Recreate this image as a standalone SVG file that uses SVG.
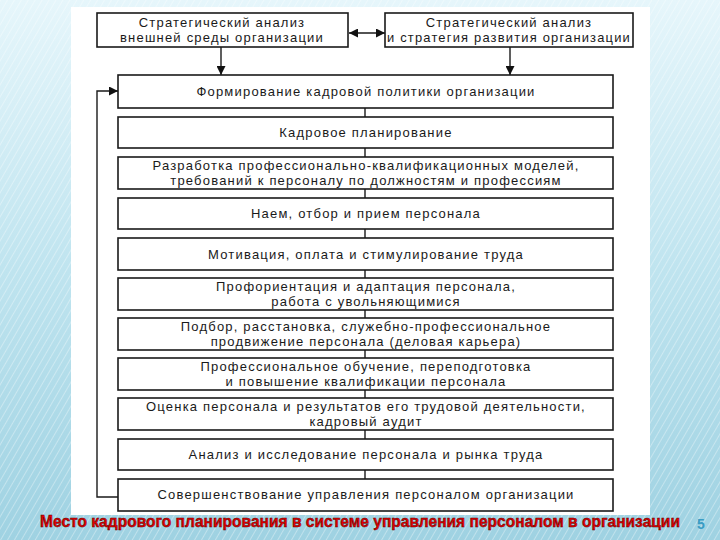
<svg xmlns="http://www.w3.org/2000/svg" width="720" height="540" viewBox="0 0 720 540">
<defs>
<linearGradient id="bg" x1="0" y1="0" x2="0" y2="1">
<stop offset="0" stop-color="#e6f6fb"/>
<stop offset="0.5" stop-color="#bfe4ef"/>
<stop offset="1" stop-color="#9fd2e2"/>
</linearGradient>
<pattern id="stripes" width="6" height="6" patternUnits="userSpaceOnUse" patternTransform="rotate(30)">
<rect width="6" height="6" fill="none"/>
<line x1="0" y1="0" x2="0" y2="6" stroke="#ffffff" stroke-width="1.5" opacity="0.45"/>
</pattern>
<marker id="ah" viewBox="0 0 10 10" refX="10" refY="5" markerWidth="9" markerHeight="9" markerUnits="userSpaceOnUse" orient="auto-start-reverse">
<path d="M0,0 L10,5 L0,10 z" fill="#111"/>
</marker>
</defs>
<style>
.box{fill:#fff;stroke:#1a1a1a;stroke-width:1.6}
.t{font-family:"Liberation Sans",Arial,sans-serif;font-size:13px;letter-spacing:1.2px;fill:#1a1a1a;text-anchor:middle}
.c{fill:none;stroke:#1a1a1a;stroke-width:1.4}
.cap{font-family:"Liberation Sans",Arial,sans-serif;font-weight:bold;font-size:16px;fill:#e60000;stroke:#5a0000;stroke-width:0.5}
</style>
<rect width="720" height="540" fill="url(#bg)"/>
<rect width="720" height="540" fill="url(#stripes)"/>
<rect x="71" y="7" width="579" height="508" fill="#ffffff"/>

<g id="connectors">
<line class="c" x1="349" y1="33" x2="385" y2="33" marker-start="url(#ah)" marker-end="url(#ah)"/>
<line class="c" x1="221" y1="47" x2="221" y2="75" marker-end="url(#ah)"/>
<line class="c" x1="510" y1="47" x2="510" y2="75" marker-end="url(#ah)"/>
<path class="c" d="M118,497 H97 V91 H118" marker-end="url(#ah)"/>
<path class="c" d="M365,108 V117 M365,148 V157 M365,189 V198 M365,229 V238 M365,270 V278 M365,310 V318 M365,350 V358 M365,390 V398 M365,430 V439 M365,470 V479"/>
</g>

<g id="n-ext">
<rect class="box" x="97" y="13" width="251" height="34"/>
<text class="t" x="222" y="27">Стратегический анализ</text>
<text class="t" x="222" y="42">внешней среды организации</text>
</g>
<g id="n-strat">
<rect class="box" x="385" y="13" width="248" height="34"/>
<text class="t" x="509" y="27">Стратегический анализ</text>
<text class="t" x="509" y="42" textLength="244" lengthAdjust="spacingAndGlyphs">и стратегия развития организации</text>
</g>
<g id="n1">
<rect class="box" x="118" y="75" width="495" height="33"/>
<text class="t" x="366" y="96">Формирование кадровой политики организации</text>
</g>
<g id="n2">
<rect class="box" x="118" y="117" width="495" height="31"/>
<text class="t" x="366" y="137">Кадровое планирование</text>
</g>
<g id="n3">
<rect class="box" x="118" y="157" width="495" height="32"/>
<text class="t" x="366" y="170">Разработка профессионально-квалификационных моделей,</text>
<text class="t" x="366" y="185">требований к персоналу по должностям и профессиям</text>
</g>
<g id="n4">
<rect class="box" x="118" y="198" width="495" height="31"/>
<text class="t" x="366" y="218">Наем, отбор и прием персонала</text>
</g>
<g id="n5">
<rect class="box" x="118" y="238" width="495" height="32"/>
<text class="t" x="366" y="259">Мотивация, оплата и стимулирование труда</text>
</g>
<g id="n6">
<rect class="box" x="118" y="278" width="495" height="32"/>
<text class="t" x="366" y="291">Профориентация и адаптация персонала,</text>
<text class="t" x="366" y="306">работа с увольняющимися</text>
</g>
<g id="n7">
<rect class="box" x="118" y="318" width="495" height="32"/>
<text class="t" x="366" y="331">Подбор, расстановка, служебно-профессиональное</text>
<text class="t" x="366" y="346">продвижение персонала (деловая карьера)</text>
</g>
<g id="n8">
<rect class="box" x="118" y="358" width="495" height="32"/>
<text class="t" x="366" y="371">Профессиональное обучение, переподготовка</text>
<text class="t" x="366" y="386">и повышение квалификации персонала</text>
</g>
<g id="n9">
<rect class="box" x="118" y="398" width="495" height="32"/>
<text class="t" x="366" y="411">Оценка персонала и результатов его трудовой деятельности,</text>
<text class="t" x="366" y="426">кадровый  аудит</text>
</g>
<g id="n10">
<rect class="box" x="118" y="439" width="495" height="31"/>
<text class="t" x="366" y="459">Анализ и исследование персонала и рынка труда</text>
</g>
<g id="n11">
<rect class="box" x="118" y="479" width="495" height="32"/>
<text class="t" x="366" y="499">Совершенствование управления персоналом организации</text>
</g>

<text class="cap" x="40" y="527" textLength="640" lengthAdjust="spacingAndGlyphs">Место кадрового планирования в системе управления персоналом в организации</text>
<text x="697" y="529" font-family="Liberation Sans,Arial,sans-serif" font-weight="bold" font-size="14" fill="#3a9cc4">5</text>
</svg>
